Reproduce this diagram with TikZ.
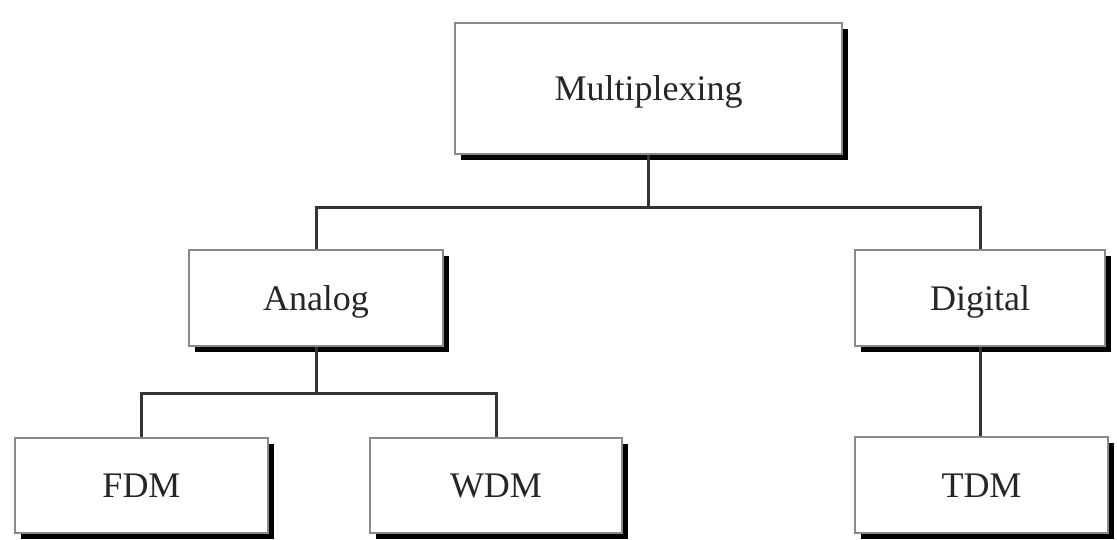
\documentclass[tikz,border=0pt]{standalone}
\usepackage{fontspec}
\setmainfont{Liberation Serif}
\usetikzlibrary{shadows}
\definecolor{txt}{HTML}{262626}
\definecolor{edge}{HTML}{8A8A8A}
\definecolor{link}{HTML}{333333}
\begin{document}
\begin{tikzpicture}[x=1pt,y=1pt,
  box/.style={draw=edge, line width=2pt, fill=white, inner sep=0pt,
    text=txt, font=\fontsize{36}{42}\selectfont, text height=32pt, text depth=8pt,
    drop shadow={shadow xshift=6pt, shadow yshift=-6pt, fill=black, opacity=1}},
  conn/.style={draw=link, line width=3pt}]
\fill[white] (0,0) rectangle (1117,539);
\useasboundingbox (0,0) rectangle (1117,539);
\node[box, minimum width=387pt, minimum height=131pt] (mux) at (648.5,450.5) {Multiplexing};
\node[box, minimum width=254pt, minimum height=96pt] (analog) at (316,241) {Analog};
\node[box, minimum width=250pt, minimum height=96pt] (digital) at (980,241) {Digital};
\node[box, minimum width=253pt, minimum height=95pt] (fdm) at (141.5,53.5) {FDM};
\node[box, minimum width=252pt, minimum height=95pt] (wdm) at (496,53.5) {WDM};
\node[box, minimum width=253pt, minimum height=96pt] (tdm) at (981.5,54) {TDM};
\coordinate (j1) at (648.5,331);
\coordinate (j2) at (316,146);
\draw[conn] (mux.south) -- (j1);
\draw[conn] (analog.north) |- (j1) -| (digital.north);
\draw[conn] (analog.south) -- (j2);
\draw[conn] (fdm.north) |- (j2) -| (wdm.north);
\draw[conn] (digital.south) -- (digital.south |- tdm.north);
\end{tikzpicture}
\end{document}
